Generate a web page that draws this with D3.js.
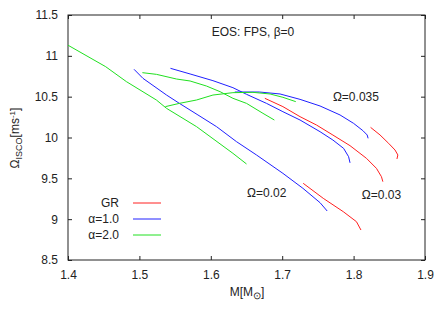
<!DOCTYPE html>
<html>
<head>
<meta charset="utf-8">
<script src="https://cdn.jsdelivr.net/npm/d3@7"></script>
<style>
  body { margin: 0; background: #fff; }
  svg text { font-family: "Liberation Sans", Arial, sans-serif; fill: #222; }
</style>
</head>
<body>
<div id="chart"></div>
<script>
// series, each [M, Omega_ISCO]
const grOmega002 = [[1.7294,9.439],[1.7575,9.255],[1.7855,9.092],[1.804,8.969],[1.8103,8.867]]
const grOmega003 = [[1.6757,10.48],[1.701,10.378],[1.725,10.255],[1.748,10.153],[1.771,10.03],[1.795,9.9],[1.818,9.745],[1.832,9.622],[1.839,9.52],[1.841,9.459]]
const grOmega0035 = [[1.8238,10.124],[1.837,10.031],[1.849,9.929],[1.858,9.847],[1.862,9.786],[1.8607,9.737]]

const a1Omega002 = [[1.4925,10.835],[1.505,10.724],[1.538,10.52],[1.556,10.418],[1.582,10.276],[1.608,10.133],[1.636,9.949],[1.664,9.786],[1.701,9.561],[1.729,9.378],[1.753,9.202],[1.763,9.1]]
const a1Omega003 = [[1.5435,10.847],[1.571,10.778],[1.603,10.696],[1.631,10.61],[1.65,10.529],[1.678,10.418],[1.701,10.316],[1.725,10.214],[1.753,10.071],[1.771,9.969],[1.786,9.867],[1.793,9.765],[1.795,9.69]]
const a1Omega0035 = [[1.6336,10.557],[1.668,10.557],[1.697,10.533],[1.725,10.467],[1.753,10.386],[1.781,10.276],[1.8,10.173],[1.813,10.084],[1.819,10.031],[1.8203,9.99]]

const a2Omega002 = [[1.4,11.13],[1.4528,10.867],[1.4818,10.684],[1.5238,10.459],[1.538,10.357],[1.58,10.133],[1.631,9.806],[1.65,9.676]]
const a2Omega003 = [[1.5042,10.794],[1.524,10.773],[1.552,10.716],[1.571,10.692],[1.594,10.63],[1.613,10.561],[1.631,10.48],[1.65,10.418],[1.673,10.296],[1.689,10.214]]
const a2Omega0035 = [[1.5364,10.378],[1.556,10.418],[1.58,10.459],[1.603,10.52],[1.631,10.549],[1.659,10.553],[1.683,10.533],[1.701,10.492],[1.719,10.439]]

const xTicks = [1.4, 1.5, 1.6, 1.7, 1.8, 1.9]
const yTicks = [8.5, 9, 9.5, 10, 10.5, 11, 11.5]

const legendNames = ['GR', 'α=1.0', 'α=2.0']
const colors = ['#ff2020', '#2020ff', '#20e020']

const groups = [
  {name: 'GR', lines: [grOmega002, grOmega003, grOmega0035]},
  {name: 'α=1.0', lines: [a1Omega002, a1Omega003, a1Omega0035]},
  {name: 'α=2.0', lines: [a2Omega002, a2Omega003, a2Omega0035]}
]

const labels = [
  {text: 'Ω=0.035', m: 1.771, w: 10.447},
  {text: 'Ω=0.02', m: 1.6507, w: 9.271},
  {text: 'Ω=0.03', m: 1.8115, w: 9.241}
]

function draw() {
  let dimensions = {
    width: 448,
    height: 313,
    margin: {top: 15, right: 23, bottom: 53, left: 68}
  }
  dimensions.ctrWidth = dimensions.width - dimensions.margin.left - dimensions.margin.right
  dimensions.ctrHeight = dimensions.height - dimensions.margin.top - dimensions.margin.bottom

  const svg = d3.select('#chart').append('svg')
    .attr('width', dimensions.width)
    .attr('height', dimensions.height)

  const ctr = svg.append('g')
    .attr('transform', `translate(${dimensions.margin.left},${dimensions.margin.top})`)

  const xScale = d3.scaleLinear().domain([1.4, 1.9]).range([0, dimensions.ctrWidth])
  const yScale = d3.scaleLinear().domain([8.5, 11.5]).range([dimensions.ctrHeight, 0])

  // axes with inward ticks on all sides
  const fmt = d => String(d)
  const xBottom = ctr.append('g')
    .attr('transform', `translate(0,${dimensions.ctrHeight})`)
    .call(d3.axisBottom(xScale).tickValues(xTicks).tickFormat(fmt).tickSizeInner(-4).tickSizeOuter(0).tickPadding(10))
  const xTop = ctr.append('g')
    .call(d3.axisTop(xScale).tickValues(xTicks).tickFormat('').tickSizeInner(-4).tickSizeOuter(0))
  const yLeft = ctr.append('g')
    .call(d3.axisLeft(yScale).tickValues(yTicks).tickFormat(fmt).tickSizeInner(-4).tickSizeOuter(0).tickPadding(10))
  const yRight = ctr.append('g')
    .attr('transform', `translate(${dimensions.ctrWidth},0)`)
    .call(d3.axisRight(yScale).tickValues(yTicks).tickFormat('').tickSizeInner(-4).tickSizeOuter(0))

  ;[xBottom, xTop, yLeft, yRight].forEach(g => {
    g.select('.domain').remove()
    g.selectAll('line').attr('stroke', '#222')
    g.selectAll('text').attr('font-size', 12).attr('fill', '#222')
      .style('font-family', '"Liberation Sans", Arial, sans-serif')
  })

  ctr.append('rect')
    .attr('width', dimensions.ctrWidth)
    .attr('height', dimensions.ctrHeight)
    .attr('fill', 'none')
    .attr('stroke', '#222')

  const line = d3.line().x(d => xScale(d[0])).y(d => yScale(d[1]))

  groups.forEach((g, i) => {
    ctr.append('g').selectAll('path')
      .data(g.lines)
      .join('path')
      .attr('d', line)
      .attr('fill', 'none')
      .attr('stroke', colors[i])
      .attr('stroke-width', 1)
  })

  // legend
  const legend = ctr.append('g')
  legendNames.forEach((name, i) => {
    const y = 188 + i * 16
    legend.append('text')
      .attr('x', 51)
      .attr('y', y + 4)
      .attr('text-anchor', 'end')
      .attr('font-size', 12)
      .text(name)
    legend.append('line')
      .attr('x1', 65).attr('x2', 93)
      .attr('y1', y).attr('y2', y)
      .attr('stroke', colors[i])
  })

  // annotations
  ctr.append('text')
    .attr('x', 185)
    .attr('y', 21)
    .attr('text-anchor', 'middle')
    .attr('font-size', 12)
    .text('EOS: FPS, β=0')

  ctr.selectAll('.omega')
    .data(labels)
    .join('text')
    .attr('class', 'omega')
    .attr('x', d => xScale(d.m))
    .attr('y', d => yScale(d.w))
    .attr('font-size', 12)
    .text(d => d.text)

  // axis titles
  const xt = svg.append('text')
    .attr('x', 247)
    .attr('y', 296)
    .attr('text-anchor', 'middle')
    .attr('font-size', 12)
  xt.append('tspan').text('M[M')
  xt.append('tspan').attr('dy', 3).attr('font-size', 10).text('⊙')
  xt.append('tspan').attr('dy', -3).text(']')

  const yt = svg.append('text')
    .attr('transform', 'translate(19,138) rotate(-90)')
    .attr('text-anchor', 'middle')
    .attr('font-size', 12)
  yt.append('tspan').text('Ω')
  yt.append('tspan').attr('dy', 3).attr('font-size', 9).text('ISCO')
  yt.append('tspan').attr('dy', -3).text('[ms')
  yt.append('tspan').attr('dy', -4).attr('font-size', 8).text('-1')
  yt.append('tspan').attr('dy', 4).text(']')
}

draw()
</script>
</body>
</html>
